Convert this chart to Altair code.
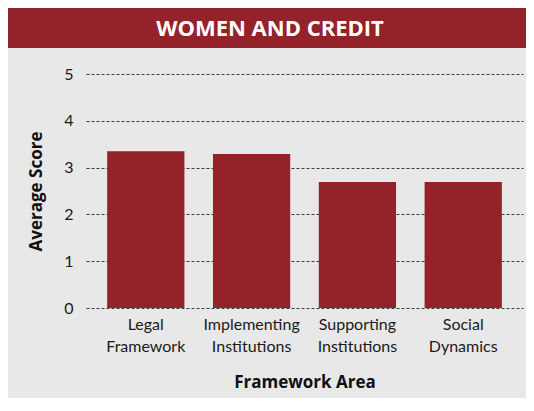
import altair as alt
import pandas as pd

categories = ["Legal Framework", "Implementing Institutions", "Supporting Institutions", "Social Dynamics"]
scores = [3.35, 3.29, 2.69, 2.69]
title_text = ["WOMEN AND CREDIT"]
y_ticks = [0, 1, 2, 3, 4, 5]

RED = "#94222a"
GREY = "#e8e8e8"
FONT = "Lato"
BOLD_FONT = "Open Sans"

df = pd.DataFrame({"area": categories, "score": scores})
banner_df = pd.DataFrame({"t": title_text})

bars = alt.Chart(df).mark_bar(color=RED).encode(
    x=alt.X("area:N", sort=categories,
            scale=alt.Scale(paddingInner=0.27, paddingOuter=0.2),
            axis=alt.Axis(title="Framework Area", labelAngle=0, domain=False, ticks=False,
                          labelExpr="split(datum.value, ' ')", labelLineHeight=22,
                          labelPadding=8, labelFontSize=16, labelColor="#1a1a1a",
                          labelFont=FONT, titleFont=BOLD_FONT, titleFontSize=17,
                          titleFontWeight="bold", titleColor="#111", titlePadding=20)),
    y=alt.Y("score:Q", scale=alt.Scale(domain=[0, 5], nice=False),
            axis=alt.Axis(title="Average Score", values=y_ticks, domain=False, ticks=False,
                          labelPadding=13, labelFontSize=16, labelColor="#1a1a1a", labelFont=FONT,
                          grid=True, gridColor="#3a3a3a", gridDash=[3, 2], gridWidth=1.2,
                          titleFont=BOLD_FONT, titleFontSize=17, titleFontWeight="bold",
                          titleColor="#111", titlePadding=18)),
)

banner = alt.Chart(banner_df).mark_rect(color=RED).encode(
    x=alt.value(-78), x2=alt.value(440), y=alt.value(-66), y2=alt.value(-26)
)
banner_text = alt.Chart(banner_df).mark_text(
    color="white", font=BOLD_FONT, fontSize=22, fontWeight="bold", baseline="middle", align="center"
).encode(text="t:N", x=alt.value(184), y=alt.value(-45))

chart = alt.layer(banner, banner_text, bars).properties(
    width=437, height=234, background=GREY,
    padding={"left": 0, "top": 0, "right": 0, "bottom": 8},
).configure_view(stroke=None)

chart.save("out.html", embed_options={"renderer": "svg", "actions": False})
